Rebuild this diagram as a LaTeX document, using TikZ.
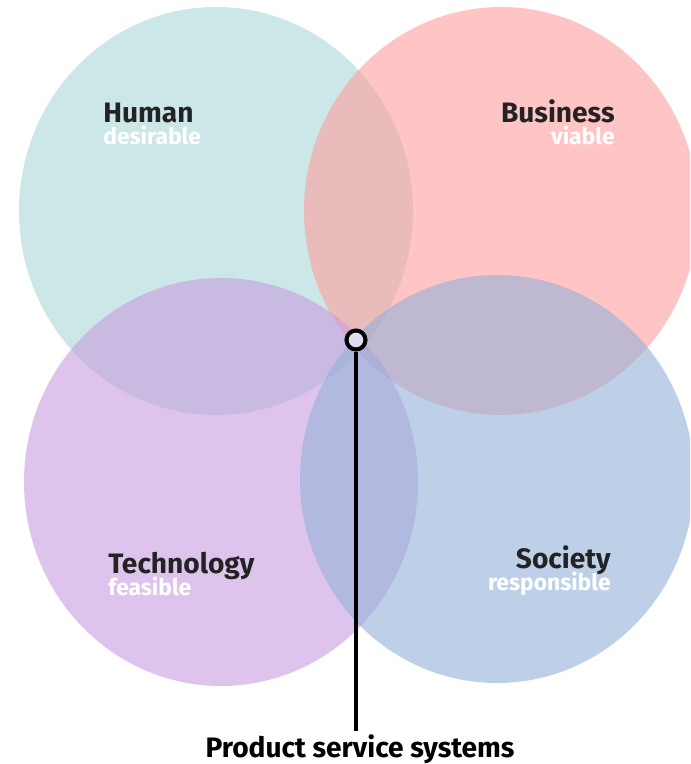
\documentclass[tikz,border=0pt]{standalone}
\usepackage{fontspec}
\setmainfont{Fira Sans}
\usetikzlibrary{shapes.geometric}
\definecolor{cHuman}{RGB}{170,215,217}
\definecolor{cBusiness}{RGB}{255,158,158}
\definecolor{cTech}{RGB}{200,157,223}
\definecolor{cSociety}{RGB}{147,177,217}
\definecolor{ink}{RGB}{35,35,35}
\begin{document}
\begin{tikzpicture}[x=0.02cm, y=-0.02cm,
    venn/.style={ellipse, fill opacity=0.6, inner sep=0pt, minimum width=394*0.02cm, minimum height=408*0.02cm},
    title/.style={font=\fontsize{16}{18}\selectfont\bfseries, text=ink, inner sep=0pt},
    sub/.style={font=\fontsize{13}{15}\selectfont\bfseries, text=white, inner sep=0pt}]
          \useasboundingbox (0,0) rectangle (690,764);
          \clip (0,0) rectangle (690,764);
          \node[venn, fill=cHuman] (nHuman) at (216,211) {};
          \node[venn, fill=cBusiness] (nBusiness) at (501,211) {};
          \node[venn, fill=cTech] (nTech) at (221,482) {};
          \node[venn, fill=cSociety] (nSociety) at (497,479) {};

          \node[title, anchor=base west] (tHuman) at (103,122) {Human};
          \node[sub, anchor=base west] (sHuman) at (103,144) {desirable};
          \node[title, anchor=base east] (tBusiness) at (615,122) {Business};
          \node[sub, anchor=base east] (sBusiness) at (615,144) {viable};
          \node[title, anchor=base west] (tTech) at (108,573) {Technology};
          \node[sub, anchor=base west] (sTech) at (108,595) {feasible};
          \node[title, anchor=base east] (tSociety) at (611,568) {Society};
          \node[sub, anchor=base east] (sSociety) at (611,590) {responsible};

          \node[circle, draw=black, line width=2.3pt, fill=white, fill opacity=0.6, minimum size=19*0.02cm, inner sep=0pt] (nPSS) at (356,340) {};
          \node[title, text=black, anchor=base] (tPSS) at (360,757) {Product service systems};
          \coordinate (cEnd) at (356,731);
          \draw[line width=1.8pt] (nPSS) -- (cEnd);
        \end{tikzpicture}
\end{document}
